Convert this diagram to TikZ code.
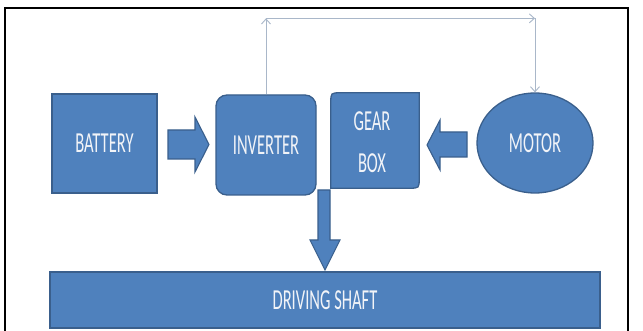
\documentclass[tikz,border=0pt]{standalone}
\usepackage{fontspec}
\setmainfont{Carlito}
\usetikzlibrary{shapes.geometric,calc,arrows.meta}
\definecolor{boxfill}{HTML}{4F81BD}
\definecolor{boxline}{HTML}{3A5F8C}
\definecolor{conn}{HTML}{A9B7C9}
\definecolor{txt}{HTML}{F2F4F8}
\newcommand{\sq}[1]{\scalebox{0.57}[1]{#1}}
\begin{document}
\begin{tikzpicture}[x=1pt,y=-1pt,
  blk/.style={fill=boxfill,draw=boxline,line width=1.3pt,text=txt,
    font=\fontsize{29}{42}\selectfont,inner sep=0pt},
  lbl/.style={text=txt,font=\fontsize{29}{42}\selectfont,inner sep=0pt,align=center},
  barrow/.style={fill=boxfill,draw=boxline,line width=1.1pt,line join=miter},
  link/.style={draw=conn,line width=0.9pt,-{Straight Barb[length=5pt,width=9pt]}}]
\useasboundingbox (0,0) rectangle (643,331);
\fill[white] (0,0) rectangle (643,331);
\draw[line width=1.6pt] (5,331) -- (5,8) -- (628,8) -- (628,331);

\node[blk, minimum width=105pt, minimum height=99pt] (bat) at (104.5,143.5) {\sq{BATTERY}};
\node[blk, rounded corners=11pt, minimum width=100pt, minimum height=100pt] (inv) at (266,145) {\sq{INVERTER}};
\node[inner sep=0pt, minimum width=88pt, minimum height=95pt] (gear) at (375,140.5) {};
\filldraw[fill=boxfill,draw=boxline,line width=1.3pt]
  (gear.south west) -- ($(gear.north west)+(0,10)$)
  .. controls (gear.north west) .. ($(gear.north west)+(10,0)$)
  -- (gear.north east) -- ($(gear.south east)+(0,-10)$)
  .. controls (gear.south east) .. ($(gear.south east)+(-10,0)$) -- cycle;
\node[lbl] (gearlabel) at ($(gear.center)+(-3,2)$) {\sq{GEAR}\\\sq{BOX}};
\node[blk, ellipse, minimum width=116pt, minimum height=100pt] (motor) at (535,143) {\sq{MOTOR}};
\node[blk, minimum width=550pt, minimum height=56pt] (shaft) at (325,300) {\sq{DRIVING SHAFT}};

% block arrows
\filldraw[barrow] (168,130) -- (195,130) -- (195,117) -- (209,144.5) -- (195,172) -- (195,159) -- (168,159) -- cycle;
\filldraw[barrow] (467,132) -- (440,132) -- (440,120) -- (427,145) -- (440,170) -- (440,157) -- (467,157) -- cycle;
\filldraw[barrow] (318,190) -- (330,190) -- (330,240) -- (340,240) -- (325,270) -- (310,240) -- (318,240) -- cycle;

% thin connectors
\coordinate (c1) at ($(inv.north)+(0,-76)$);
\coordinate (c2) at (motor.north |- c1);
\draw[link] (inv.north) -- (c1);
\draw[link] (c1) -- (c2);
\draw[link] (c2) -- (motor.north);
\end{tikzpicture}
\end{document}
